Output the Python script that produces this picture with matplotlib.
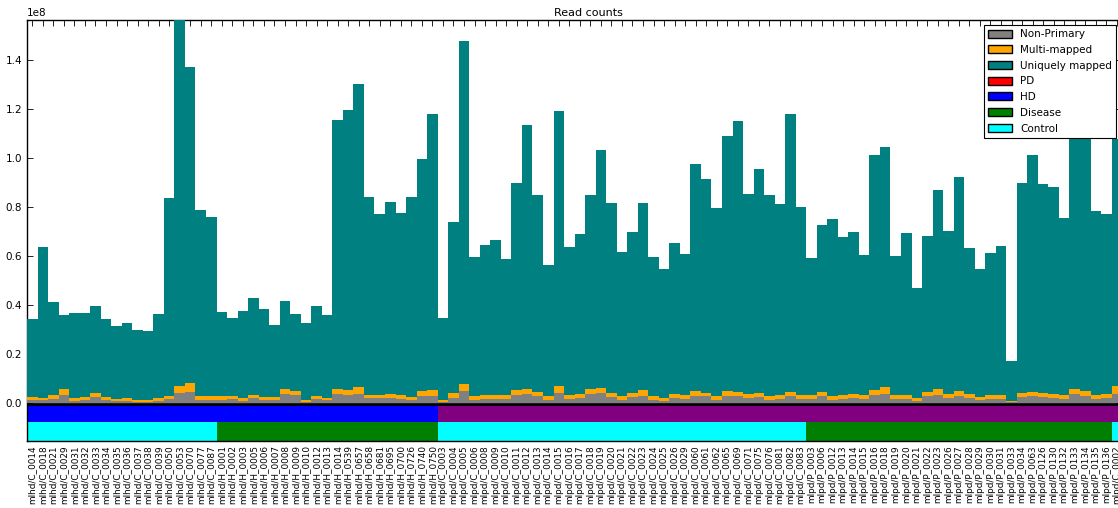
import numpy as np
import matplotlib.pyplot as plt
from matplotlib.patches import Patch

# sample names, in plotting order
samples = [
    "mlhd/C_0014", "mlhd/C_0018", "mlhd/C_0021", "mlhd/C_0029", "mlhd/C_0031", "mlhd/C_0032",
    "mlhd/C_0033", "mlhd/C_0034", "mlhd/C_0035", "mlhd/C_0036", "mlhd/C_0037", "mlhd/C_0038",
    "mlhd/C_0039", "mlhd/C_0050", "mlhd/C_0053", "mlhd/C_0070", "mlhd/C_0077", "mlhd/C_0087",
    "mlhd/H_0001", "mlhd/H_0002", "mlhd/H_0003", "mlhd/H_0005", "mlhd/H_0006", "mlhd/H_0007",
    "mlhd/H_0008", "mlhd/H_0009", "mlhd/H_0010", "mlhd/H_0012", "mlhd/H_0013", "mlhd/H_0014",
    "mlhd/H_0539", "mlhd/H_0657", "mlhd/H_0658", "mlhd/H_0681", "mlhd/H_0695", "mlhd/H_0700",
    "mlhd/H_0726", "mlhd/H_0740", "mlhd/H_0750",
    "mlpd/C_0003", "mlpd/C_0004", "mlpd/C_0005", "mlpd/C_0006", "mlpd/C_0008", "mlpd/C_0009",
    "mlpd/C_0010", "mlpd/C_0011", "mlpd/C_0012", "mlpd/C_0013", "mlpd/C_0014", "mlpd/C_0015",
    "mlpd/C_0016", "mlpd/C_0017", "mlpd/C_0018", "mlpd/C_0019", "mlpd/C_0020", "mlpd/C_0021",
    "mlpd/C_0022", "mlpd/C_0023", "mlpd/C_0024", "mlpd/C_0025", "mlpd/C_0026", "mlpd/C_0029",
    "mlpd/C_0060", "mlpd/C_0061", "mlpd/C_0062", "mlpd/C_0065", "mlpd/C_0069", "mlpd/C_0071",
    "mlpd/C_0075", "mlpd/C_0076", "mlpd/C_0081", "mlpd/C_0082", "mlpd/C_0083",
    "mlpd/P_0003", "mlpd/P_0006", "mlpd/P_0012", "mlpd/P_0013", "mlpd/P_0014", "mlpd/P_0015",
    "mlpd/P_0016", "mlpd/P_0018", "mlpd/P_0019", "mlpd/P_0020", "mlpd/P_0021", "mlpd/P_0022",
    "mlpd/P_0023", "mlpd/P_0026", "mlpd/P_0027", "mlpd/P_0028", "mlpd/P_0029", "mlpd/P_0030",
    "mlpd/P_0031", "mlpd/P_0033", "mlpd/P_0034", "mlpd/P_0063", "mlpd/P_0126", "mlpd/P_0130",
    "mlpd/P_0132", "mlpd/P_0133", "mlpd/P_0134", "mlpd/P_0135", "mlpd/P_0136", "mlpd/C_0002",
]

# read counts in millions
non_primary = [
    1.2, 1.1, 1.6, 3.1, 0.9, 1.3, 2.4, 1.1, 0.7, 0.9, 0.5, 0.5, 0.9, 1.6, 4.1, 4.5, 1.3, 1.3,
    1.3, 1.6, 0.9, 1.9, 1.2, 1.2, 3.8, 3.3, 0.5, 1.6, 1.1, 3.7, 3.4, 3.8, 2.0, 2.0, 2.0, 1.6,
    1.3, 3.0, 3.0,
    0.5, 2.0, 4.8, 1.3, 1.8, 1.8, 1.8, 3.4, 3.7, 2.7, 1.3, 4.1, 1.8, 2.0, 3.8, 4.1, 2.4, 1.3,
    2.4, 3.0, 1.3, 0.9, 2.0, 1.8, 3.0, 2.7, 1.3, 3.0, 2.7, 2.0, 2.4, 1.3, 1.8, 2.7, 1.8,
    1.6, 2.7, 1.3, 1.8, 2.0, 1.8, 3.4, 3.8, 1.6, 1.6, 0.9, 2.7, 3.4, 2.0, 3.0, 2.0, 1.1, 1.8,
    1.8, 0.4, 2.4, 2.7, 2.4, 2.0, 1.8, 3.7, 3.0, 1.8, 2.0, 3.8,
]
multi_mapped = [
    1.2, 0.9, 1.8, 2.7, 1.1, 1.1, 1.6, 1.3, 1.1, 1.1, 0.6, 0.6, 1.1, 1.3, 2.7, 3.8, 1.4, 1.6,
    1.4, 1.3, 1.2, 1.5, 1.2, 1.2, 1.9, 1.6, 0.8, 1.3, 1.1, 2.2, 1.8, 2.6, 1.3, 1.3, 1.6, 1.5,
    1.1, 2.0, 2.4,
    0.8, 2.0, 3.1, 1.4, 1.4, 1.4, 1.4, 2.0, 2.2, 1.8, 1.4, 2.7, 1.4, 1.6, 2.0, 2.0, 1.6, 1.4,
    1.6, 2.2, 1.4, 1.1, 1.6, 1.4, 1.8, 1.3, 1.4, 1.8, 1.8, 1.8, 1.6, 1.4, 1.6, 1.8, 1.6,
    1.5, 1.8, 1.4, 1.6, 1.8, 1.6, 1.8, 2.6, 1.5, 1.5, 1.1, 1.8, 2.3, 1.8, 2.0, 1.8, 1.3, 1.6,
    1.6, 0.5, 1.6, 1.8, 1.6, 1.8, 1.6, 2.2, 2.0, 1.6, 1.6, 3.0,
]
uniquely_mapped = [
    31.8, 61.6, 38.0, 30.3, 34.8, 34.4, 35.8, 32.1, 29.5, 30.6, 28.9, 28.3, 34.4, 81.0, 155.2,
    128.9, 76.0, 73.0,
    34.5, 31.9, 35.6, 39.5, 35.9, 29.5, 36.0, 31.5, 31.3, 36.9, 33.6, 109.8, 114.7, 124.1,
    81.0, 73.8, 78.6, 74.5, 81.6, 94.8, 112.8,
    33.6, 70.0, 140.0, 56.9, 61.3, 63.5, 55.6, 84.4, 107.8, 80.4, 53.7, 112.6, 60.5, 65.3,
    79.0, 97.1, 77.7, 59.0, 65.8, 76.6, 57.1, 52.9, 61.8, 57.5, 92.7, 87.6, 76.8, 104.3,
    110.7, 81.7, 91.8, 82.2, 78.1, 113.7, 76.8,
    56.1, 68.4, 72.5, 64.6, 66.1, 57.2, 96.1, 98.3, 56.9, 66.4, 45.1, 63.8, 81.4, 66.5, 87.5,
    59.6, 52.5, 57.9, 60.6, 16.3, 86.1, 96.8, 85.4, 84.5, 72.3, 104.2, 107.0, 75.0, 73.6, 101.2,
]

W, H = 1118, 508
fig = plt.figure(figsize=(W / 100, H / 100), dpi=100)
fig.patch.set_facecolor("white")

n = len(samples)
ax = fig.add_axes([27 / W, (H - 441) / H, (n * 10.53) / W, 421 / H])

x = np.arange(n)
npri = np.array(non_primary) * 1e6
multi = np.array(multi_mapped) * 1e6
uniq = np.array(uniquely_mapped) * 1e6

ax.bar(x, npri, width=1.0, color="gray", linewidth=0, zorder=3)
ax.bar(x, multi, width=1.0, bottom=npri, color="orange", linewidth=0, zorder=3)
ax.bar(x, uniq, width=1.0, bottom=npri + multi, color="teal", linewidth=0, zorder=3)

# group rows under the bars: study (HD / PD) and status (control / disease)
study_colors = ["blue" if s.startswith("mlhd") else "purple" for s in samples]
status_colors = ["cyan" if "/C_" in s else "green" for s in samples]
ax.bar(x, 0.072e8, width=1.0, bottom=-0.076e8, color=study_colors, linewidth=0, zorder=2)
ax.bar(x, 0.076e8, width=1.0, bottom=-0.155e8, color=status_colors, linewidth=0, zorder=2)
ax.axhline(-0.002e8, color="black", linewidth=2, zorder=2.5)

ax.set_xlim(-0.5, n - 0.5)
ax.set_ylim(-0.155e8, 1.565e8)
ax.set_yticks(np.arange(0, 1.5e8, 0.2e8))
ax.set_xticks(x)
ax.set_xticklabels(samples, rotation=90, fontsize=6.4)
ax.tick_params(axis="both", direction="in", top=True, right=True, length=4, width=0.6)
ax.tick_params(axis="x", pad=3)
ax.tick_params(axis="y", labelsize=7.5)
ax.yaxis.get_offset_text().set_fontsize(7.5)
for sp in ax.spines.values():
    sp.set_linewidth(1.0)

ax.set_title("Read counts", fontsize=8, x=(588 - 27) / (n * 10.53), pad=3)

handles = [
    Patch(facecolor="gray", edgecolor="black", label="Non-Primary"),
    Patch(facecolor="orange", edgecolor="black", label="Multi-mapped"),
    Patch(facecolor="teal", edgecolor="black", label="Uniquely mapped"),
    Patch(facecolor="red", edgecolor="black", label="PD"),
    Patch(facecolor="blue", edgecolor="black", label="HD"),
    Patch(facecolor="green", edgecolor="black", label="Disease"),
    Patch(facecolor="cyan", edgecolor="black", label="Control"),
]
leg = fig.legend(handles=handles, loc="upper right", bbox_to_anchor=(1116 / W, 1 - 25 / H),
                 fontsize=7.5, fancybox=False, framealpha=1, edgecolor="black",
                 borderaxespad=0, handlelength=2.3, handleheight=0.8, labelspacing=0.55)
leg.get_frame().set_linewidth(0.8)

fig.savefig("out.png", dpi=100)
